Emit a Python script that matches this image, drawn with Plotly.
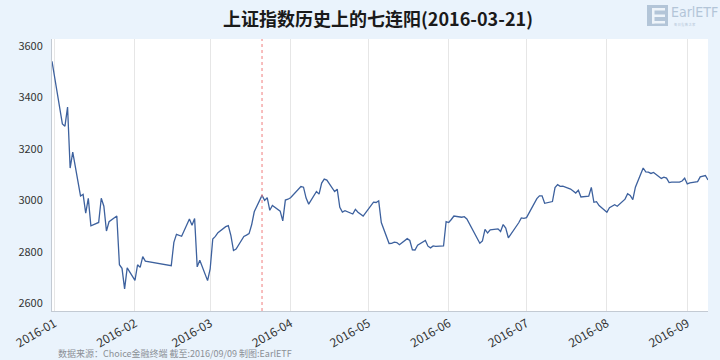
import plotly.graph_objects as go

dates = [
    "2015-12-31",
    "2016-01-04", "2016-01-05", "2016-01-06", "2016-01-07", "2016-01-08",
    "2016-01-11", "2016-01-12", "2016-01-13", "2016-01-14", "2016-01-15",
    "2016-01-18", "2016-01-19", "2016-01-20", "2016-01-21", "2016-01-22",
    "2016-01-25", "2016-01-26", "2016-01-27", "2016-01-28", "2016-01-29",
    "2016-02-01", "2016-02-02", "2016-02-03", "2016-02-04", "2016-02-05",
    "2016-02-15", "2016-02-16", "2016-02-17", "2016-02-18", "2016-02-19",
    "2016-02-22", "2016-02-23", "2016-02-24", "2016-02-25", "2016-02-26",
    "2016-02-29", "2016-03-01", "2016-03-02", "2016-03-03", "2016-03-04",
    "2016-03-07", "2016-03-08", "2016-03-09", "2016-03-10", "2016-03-11",
    "2016-03-14", "2016-03-15", "2016-03-16", "2016-03-17", "2016-03-18",
    "2016-03-21", "2016-03-22", "2016-03-23", "2016-03-24", "2016-03-25",
    "2016-03-28", "2016-03-29", "2016-03-30", "2016-03-31", "2016-04-01",
    "2016-04-05", "2016-04-06", "2016-04-07", "2016-04-08",
    "2016-04-11", "2016-04-12", "2016-04-13", "2016-04-14", "2016-04-15",
    "2016-04-18", "2016-04-19", "2016-04-20", "2016-04-21", "2016-04-22",
    "2016-04-25", "2016-04-26", "2016-04-27", "2016-04-28", "2016-04-29",
    "2016-05-03", "2016-05-04", "2016-05-05", "2016-05-06",
    "2016-05-09", "2016-05-10", "2016-05-11", "2016-05-12", "2016-05-13",
    "2016-05-16", "2016-05-17", "2016-05-18", "2016-05-19", "2016-05-20",
    "2016-05-23", "2016-05-24", "2016-05-25", "2016-05-26", "2016-05-27",
    "2016-05-30", "2016-05-31", "2016-06-01", "2016-06-02", "2016-06-03",
    "2016-06-06", "2016-06-07", "2016-06-08",
    "2016-06-13", "2016-06-14", "2016-06-15", "2016-06-16", "2016-06-17",
    "2016-06-20", "2016-06-21", "2016-06-22", "2016-06-23", "2016-06-24",
    "2016-06-27", "2016-06-28", "2016-06-29", "2016-06-30", "2016-07-01",
    "2016-07-04", "2016-07-05", "2016-07-06", "2016-07-07", "2016-07-08",
    "2016-07-11", "2016-07-12", "2016-07-13", "2016-07-14", "2016-07-15",
    "2016-07-18", "2016-07-19", "2016-07-20", "2016-07-21", "2016-07-22",
    "2016-07-25", "2016-07-26", "2016-07-27", "2016-07-28", "2016-07-29",
    "2016-08-01", "2016-08-02", "2016-08-03", "2016-08-04", "2016-08-05",
    "2016-08-08", "2016-08-09", "2016-08-10", "2016-08-11", "2016-08-12",
    "2016-08-15", "2016-08-16", "2016-08-17", "2016-08-18", "2016-08-19",
    "2016-08-22", "2016-08-23", "2016-08-24", "2016-08-25", "2016-08-26",
    "2016-08-29", "2016-08-30", "2016-08-31", "2016-09-01", "2016-09-02",
    "2016-09-05", "2016-09-06", "2016-09-07", "2016-09-08", "2016-09-09",
]

closes = [
    3539.18,
    3296.26, 3287.71, 3361.84, 3125.00, 3186.41,
    3016.70, 3022.86, 2949.60, 3007.65, 2900.97,
    2913.84, 3007.74, 2976.69, 2880.48, 2916.56,
    2938.51, 2749.79, 2735.56, 2655.66, 2737.60,
    2688.85, 2749.57, 2739.25, 2781.02, 2763.49,
    2746.20, 2836.57, 2867.34, 2862.89, 2860.02,
    2927.18, 2903.33, 2928.90, 2741.25, 2767.21,
    2687.98, 2733.17, 2849.68, 2859.76, 2874.15,
    2897.34, 2901.39, 2862.56, 2804.73, 2810.31,
    2859.50, 2864.37, 2870.43, 2904.83, 2955.15,
    3018.80, 2999.36, 3009.96, 2960.97, 2979.43,
    2957.82, 2919.83, 3000.65, 3003.92, 3009.53,
    3053.07, 3050.59, 3008.42, 2984.96,
    3033.96, 3023.65, 3066.64, 3082.36, 3078.12,
    3033.66, 3042.82, 2972.58, 2953.67, 2959.24,
    2946.67, 2964.70, 2953.50, 2945.59, 2938.32,
    2992.64, 2991.27, 2997.84, 2913.25,
    2832.11, 2832.59, 2837.04, 2835.86, 2827.11,
    2850.86, 2843.65, 2807.51, 2806.91, 2825.48,
    2843.68, 2821.67, 2815.09, 2822.44, 2821.05,
    2822.45, 2916.62, 2913.51, 2925.23, 2938.68,
    2934.10, 2936.04, 2927.16,
    2833.07, 2842.19, 2887.21, 2872.82, 2885.11,
    2888.81, 2878.56, 2905.55, 2891.96, 2854.29,
    2895.70, 2912.56, 2931.59, 2929.61, 2932.48,
    2988.60, 3006.39, 3017.29, 3016.85, 2988.09,
    2994.92, 3049.38, 3060.69, 3054.02, 3054.30,
    3043.56, 3036.60, 3027.90, 3039.06, 3012.82,
    3015.83, 3050.17, 2992.00, 2994.29, 2979.34,
    2953.39, 2971.28, 2978.46, 2982.43, 2976.70,
    3004.28, 3025.68, 3018.75, 3002.64, 3050.67,
    3125.20, 3110.04, 3109.04, 3104.11, 3108.10,
    3084.81, 3089.71, 3085.88, 3068.33, 3070.31,
    3070.03, 3074.68, 3085.49, 3063.31, 3067.35,
    3072.10, 3090.71, 3091.93, 3095.95, 3078.85,
]

title_text = "上证指数历史上的七连阳(2016-03-21)"
marker_date = "2016-03-21"
footer_text = "数据来源：Choice金融终端 截至:2016/09/09 制图:EarlETF"
logo_text = "EarlETF"
logo_sub = "每 日 指 数 之 家"
y_ticks = [2600, 2800, 3000, 3200, 3400, 3600]

W, H = 720, 360
L, R, T, B = 52, 12, 39, 49
pw, ph = W - L - R, H - T - B


def px_x(px):
    return (px - L) / pw


def px_y(py):
    return (H - B - py) / ph


fig = go.Figure()
fig.add_trace(go.Scatter(
    x=dates, y=closes, mode="lines",
    line=dict(color="#3D619E", width=1.3),
    showlegend=False, hoverinfo="x+y",
))

fig.add_shape(type="line", xref="x", yref="paper",
              x0=marker_date, x1=marker_date, y0=0, y1=1,
              line=dict(color="#F07C7C", width=1, dash="3px,3px"))

# logo box with a stylised "E"
fig.add_shape(type="rect", xref="paper", yref="paper",
              x0=px_x(647), x1=px_x(668), y0=px_y(26), y1=px_y(5),
              fillcolor="#B3C5D8", line=dict(width=0))
for y0, y1, x1 in [(8, 10.5, 665), (14.5, 17, 665), (21, 23.5, 665)]:
    fig.add_shape(type="rect", xref="paper", yref="paper",
                  x0=px_x(652), x1=px_x(x1), y0=px_y(y1), y1=px_y(y0),
                  fillcolor="#EEF4FA", line=dict(width=0))
fig.add_shape(type="rect", xref="paper", yref="paper",
              x0=px_x(652), x1=px_x(654.5), y0=px_y(23.5), y1=px_y(8),
              fillcolor="#EEF4FA", line=dict(width=0))

fig.add_annotation(xref="paper", yref="paper", x=px_x(669), y=px_y(12),
                   xanchor="left", yanchor="middle", text=logo_text,
                   showarrow=False,
                   font=dict(family="DejaVu Sans Condensed", size=14, color="#B3C5D8"))
fig.add_annotation(xref="paper", yref="paper", x=px_x(672), y=px_y(24.5),
                   xanchor="left", yanchor="middle", text=logo_sub,
                   showarrow=False,
                   font=dict(family="Noto Sans CJK SC", size=3, color="#B3C5D8"))

fig.add_annotation(xref="paper", yref="paper", x=px_x(56), y=px_y(353),
                   xanchor="left", yanchor="middle", text=footer_text,
                   showarrow=False,
                   font=dict(family="Noto Sans CJK SC", size=9, color="#8A8F96"))

fig.update_layout(
    width=W, height=H,
    margin=dict(l=L, r=R, t=T, b=B, autoexpand=False),
    paper_bgcolor="#EAF3FC",
    plot_bgcolor="#FFFFFF",
    title=dict(text=f"<b>{title_text}</b>", x=px_x(378), xref="paper",
               xanchor="center", y=1 - 20 / H, yref="container",
               yanchor="middle",
               font=dict(family="Noto Sans CJK SC", size=18, color="#1A1A1A")),
    xaxis=dict(
        type="date", range=["2015-12-31", "2016-09-09"],
        tick0="2016-01-01", dtick="M1", tickformat="%Y-%m",
        tickangle=-30, showgrid=True, gridcolor="#E6E6E6", gridwidth=1,
        showline=True, linecolor="#C3CAD3", linewidth=1,
        ticks="", zeroline=False, automargin=False,
        tickfont=dict(family="Noto Sans CJK SC", size=12, color="#333333"),
    ),
    yaxis=dict(
        range=[2570, 3626], tickvals=y_ticks,
        showgrid=False, showline=True, linecolor="#C3CAD3", linewidth=1,
        ticks="", zeroline=False, ticklabelstandoff=6, automargin=False,
        tickfont=dict(family="Noto Sans CJK SC", size=11, color="#333333"),
    ),
)

fig.write_html("out.html")
